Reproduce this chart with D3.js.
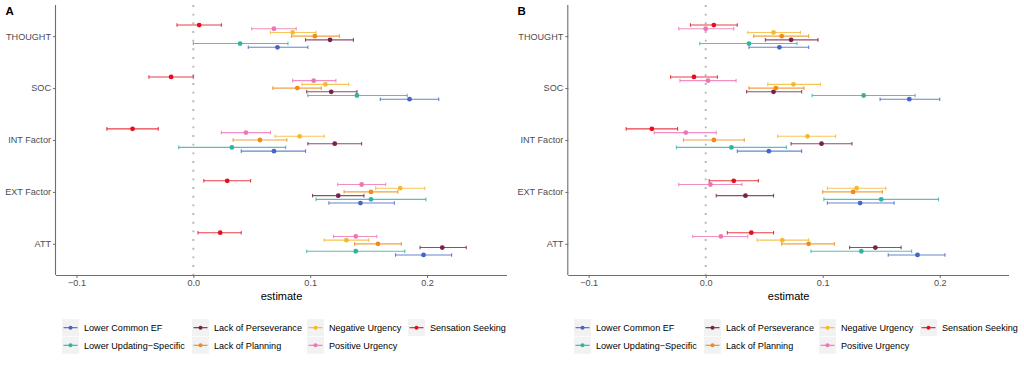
<!DOCTYPE html>
<html><head><meta charset="utf-8">
<script src="https://cdn.jsdelivr.net/npm/d3@7"></script>
<style>
body{margin:0;background:#fff;}
text{font-family:"Liberation Sans",Arial,sans-serif;}
</style></head>
<body><svg id="c" width="1024" height="365"></svg>
<script>
const categories = ["THOUGHT","SOC","INT Factor","EXT Factor","ATT"];
const seriesNames = ["Lower Common EF","Lower Updating\u2212Specific","Lack of Perseverance","Lack of Planning","Negative Urgency","Positive Urgency","Sensation Seeking"];
const seriesColors = ["#4466c8","#2fb3a3","#7a1f4a","#f28a1a","#f6b92b","#ee74b4","#e3101c"];
const xTicks = [-0.1, 0.0, 0.1, 0.2];
const panelLabels = ["A","B"];

// Panel A: estimates and CIs per series (rows) x category (cols)
const estA = [
 [0.072,0.185,0.069,0.143,0.197],
 [0.040,0.140,0.033,0.152,0.139],
 [0.117,0.118,0.121,0.124,0.213],
 [0.104,0.089,0.057,0.152,0.158],
 [0.085,0.113,0.091,0.177,0.131],
 [0.069,0.103,0.045,0.144,0.139],
 [0.005,-0.019,-0.052,0.029,0.023]];
const loA = [
 [0.047,0.160,0.041,0.116,0.173],
 [0.000,0.098,-0.0125,0.105,0.097],
 [0.096,0.097,0.098,0.102,0.194],
 [0.084,0.068,0.034,0.129,0.138],
 [0.066,0.093,0.070,0.156,0.112],
 [0.050,0.085,0.024,0.1235,0.120],
 [-0.014,-0.038,-0.074,0.009,0.004]];
const hiA = [
 [0.098,0.210,0.096,0.172,0.221],
 [0.081,0.183,0.079,0.199,0.181],
 [0.137,0.140,0.144,0.146,0.2335],
 [0.125,0.1095,0.080,0.175,0.178],
 [0.105,0.133,0.112,0.198,0.150],
 [0.088,0.122,0.066,0.1646,0.157],
 [0.024,0.000,-0.030,0.049,0.041]];

// Panel B
const estB = [
 [0.063,0.174,0.054,0.132,0.181],
 [0.037,0.135,0.022,0.150,0.133],
 [0.073,0.058,0.099,0.034,0.145],
 [0.065,0.060,0.007,0.126,0.088],
 [0.058,0.075,0.087,0.129,0.0655],
 [0.000,0.002,-0.017,0.004,0.013],
 [0.007,-0.010,-0.046,0.024,0.039]];
const loB = [
 [0.037,0.149,0.027,0.104,0.156],
 [-0.005,0.091,-0.025,0.101,0.090],
 [0.051,0.035,0.073,0.009,0.123],
 [0.041,0.037,-0.019,0.100,0.065],
 [0.036,0.053,0.0615,0.104,0.044],
 [-0.023,-0.022,-0.044,-0.023,-0.011],
 [-0.013,-0.030,-0.068,0.003,0.0185]];
const hiB = [
 [0.088,0.200,0.082,0.161,0.2045],
 [0.078,0.179,0.069,0.199,0.176],
 [0.096,0.082,0.125,0.058,0.167],
 [0.088,0.084,0.033,0.151,0.110],
 [0.081,0.098,0.111,0.154,0.088],
 [0.024,0.026,0.009,0.031,0.036],
 [0.027,0.010,-0.024,0.045,0.058]];

const svg = d3.select("#c");

function panel(ox, left, right, domain, est, lo, hi, label){
  const top = 5, bottom = 275;
  const g = svg.append("g");
  const x = d3.scaleLinear().domain(domain).range([left, right]);
  const y = d3.scalePoint().domain(categories).range([top, bottom]).padding(0.6);
  const step = y.step();
  const dodge = 0.5/7*step;

  // zero line
  g.append("line").attr("x1", x(0)).attr("x2", x(0)).attr("y1", top).attr("y2", bottom)
    .attr("stroke","#b4b4b4").attr("stroke-width",1.9).attr("stroke-dasharray","1.9 6.77");

  // data
  seriesNames.forEach((s, k) => {
    const off = (3 - k) * dodge;
    const rows = categories.map((c, j) => ({c, e: est[k][j], l: lo[k][j], h: hi[k][j]}));
    const sg = g.append("g");
    sg.selectAll("line.bar").data(rows).join("line")
      .attr("x1", d => x(d.l)).attr("x2", d => x(d.h))
      .attr("y1", d => y(d.c) + off).attr("y2", d => y(d.c) + off)
      .attr("stroke", seriesColors[k]).attr("stroke-width",1.1).attr("opacity",0.8);
    ["l","h"].forEach(key => {
      sg.selectAll("line.cap"+key).data(rows).join("line")
        .attr("x1", d => x(d[key])).attr("x2", d => x(d[key]))
        .attr("y1", d => y(d.c) + off - 1.8).attr("y2", d => y(d.c) + off + 1.8)
        .attr("stroke", seriesColors[k]).attr("stroke-width",1.1).attr("opacity",0.8);
    });
    sg.selectAll("circle").data(rows).join("circle")
      .attr("cx", d => x(d.e)).attr("cy", d => y(d.c) + off).attr("r",2.4)
      .attr("fill", seriesColors[k]);
  });

  // axes
  const ax = g.append("g").attr("transform",`translate(0,${bottom})`)
    .call(d3.axisBottom(x).tickValues(xTicks).tickSize(3).tickPadding(2).tickFormat(d3.format(".1f")));
  ax.select(".domain").attr("stroke","#6e6e6e").attr("stroke-width",1.1).attr("d",`M${left},0.5H${right}`);
  ax.selectAll(".tick line").attr("stroke","#6e6e6e");
  ax.selectAll(".tick text").attr("fill","#4d4d4d").style("font-size","9.1px")
    .text(d => d3.format(".1f")(d).replace("-","\u2212"));

  const ay = g.append("g").attr("transform",`translate(${left},0)`)
    .call(d3.axisLeft(y).tickSize(3).tickPadding(2));
  ay.select(".domain").attr("stroke","#6e6e6e").attr("stroke-width",1.1).attr("d",`M-0.5,${top}V${bottom}`);
  ay.selectAll(".tick line").attr("stroke","#6e6e6e");
  ay.selectAll(".tick text").attr("fill","#4d4d4d").style("font-size","9.1px");

  g.append("text").attr("x",(left+right)/2).attr("y",300).attr("text-anchor","middle")
    .style("font-size","11px").attr("fill","#000").text("estimate");

  g.append("text").attr("x", ox + 5.5).attr("y",15).style("font-size","11.5px").style("font-weight","bold")
    .attr("fill","#000").text(label);

  // legend (column-major, 4 columns x 2 rows)
  const colKeyX = [62, 192, 307, 408];
  const rowY = [327.7, 345.3];
  seriesNames.forEach((s, k) => {
    const col = Math.floor(k/2), row = k % 2;
    const kx = ox + colKeyX[col], ky = rowY[row];
    const lg = g.append("g");
    lg.append("rect").attr("x",kx).attr("y",ky-8.5).attr("width",17).attr("height",17).attr("fill","#f2f2f2");
    lg.append("line").attr("x1",kx+1.5).attr("x2",kx+15.5).attr("y1",ky).attr("y2",ky)
      .attr("stroke",seriesColors[k]).attr("stroke-width",1.1);
    lg.append("circle").attr("cx",kx+8.5).attr("cy",ky).attr("r",2).attr("fill",seriesColors[k]);
    lg.append("text").attr("x",kx+22).attr("y",ky+3.2).style("font-size","9.1px").attr("fill","#000").text(s);
  });
}

panel(0, 56, 507, [-0.1175, 0.2684], estA, loA, hiA, panelLabels[0]);
panel(512, 568.3, 1009, [-0.1174, 0.2592], estB, loB, hiB, panelLabels[1]);
</script></body></html>
